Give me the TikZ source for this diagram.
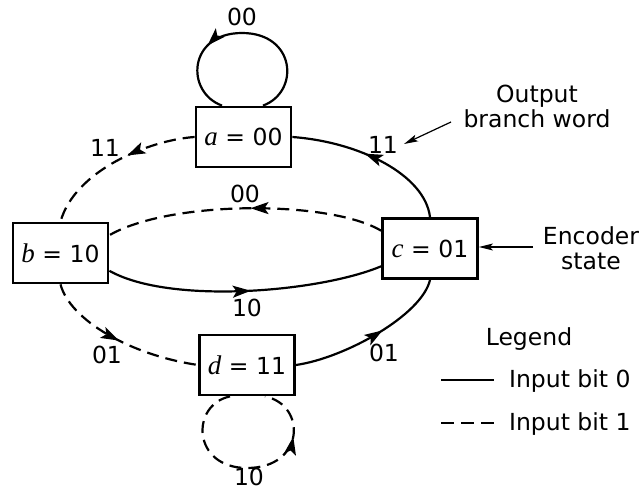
\documentclass[tikz,border=0pt]{standalone}
\usepackage{fontspec}
\setmainfont{DejaVu Sans}
\newfontfamily\stvar{Liberation Serif}
\newcommand{\sv}[1]{{\stvar\itshape\fontsize{27}{27}\selectfont #1}}
\usetikzlibrary{arrows.meta,decorations.markings}
\begin{document}
\begin{tikzpicture}[x=1pt,y=-1pt,line width=2.2pt,
  font=\fontsize{23.5}{25}\selectfont,
  state/.style={draw,fill=white,minimum width=95pt,minimum height=60pt,inner sep=0pt,line width=2.8pt},
  lbl/.style={inner sep=0pt},
  dsh/.style={dash pattern=on 12pt off 7pt},
  midarrow/.style={postaction={decorate,decoration={markings,mark=at position #1 with {\arrow{Stealth[length=18pt,width=12pt,inset=4pt]}}}}},
  note/.style={line width=1.2pt,-{Stealth[length=14pt,width=7pt,inset=3pt]}}
]
\useasboundingbox (0,0) rectangle (641,490);

% states
\node[state] (a) at (243.5,137) {\sv{a} = 00};
\node[state] (b) at (60.5,253) {\sv{b} = 10};
\node[state] (c) at (430,248.5) {\sv{c} = 01};
\node[state] (d) at (247,365) {\sv{d} = 11};

% self loops
\draw[midarrow=0.67] ([xshift=19.5pt]a.north) .. controls (300,92) and (296,33) .. (242,33)
   .. controls (188,33) and (185,92) .. ([xshift=-21.5pt]a.north);
\draw[dsh,midarrow=0.76] ([xshift=-17pt]d.south) .. controls (190,405) and (192,468) .. (247,468)
   .. controls (305,468) and (307,405) .. ([xshift=18pt]d.south);

% transitions
\draw[midarrow=0.56] (c.north) .. controls (425,175) and (360,142) .. (a.east);
\draw[dsh,midarrow=0.42] (a.west) .. controls (150,140) and (75,170) .. (b.north);
\draw[dsh,midarrow=0.48] (c.160) .. controls (330,200) and (170,200) .. (b.20);
\draw[midarrow=0.52] (b.-20) .. controls (170,305) and (320,292) .. (c.200);
\draw[dsh,midarrow=0.5] (b.south) .. controls (70,320) and (130,355) .. (d.west);
\draw[midarrow=0.57] (d.east) .. controls (345,358) and (422,315) .. (c.south);

% branch word labels
\node[lbl] (l00a) at (242,17) {00};
\node[lbl] (l11l) at (105,148) {11};
\node[lbl] (l11r) at (383,145) {11};
\node[lbl] (l00m) at (245,194) {00};
\node[lbl] (l10m) at (247,308) {10};
\node[lbl] (l01l) at (107,355) {01};
\node[lbl] (l01r) at (384,353) {01};
\node[lbl] (l10b) at (249,477) {10};

% annotations
\node[lbl,align=center] (obw) at (537,106) {Output\\branch word};
\coordinate (obwS) at (451,122);
\coordinate (obwT) at (404,144);
\draw[note] (obwS) -- (obwT);
\node[lbl,align=center] (enc) at (591,248) {Encoder\\state};
\coordinate (encS) at (533,247);
\draw[note] (encS) -- (c.east |- encS);

% legend
\node[lbl] (leg) at (529,339) {Legend};
\coordinate (s0) at (441,380);
\coordinate (s1) at (494,380);
\coordinate (d0) at (441,423);
\coordinate (d1) at (494,423);
\draw (s0) -- (s1);
\draw[dash pattern=on 13pt off 7pt] (d0) -- (d1);
\node[lbl,anchor=west] (ib0) at (508,381) {Input bit 0};
\node[lbl,anchor=west] (ib1) at (508,424) {Input bit 1};
\end{tikzpicture}
\end{document}
